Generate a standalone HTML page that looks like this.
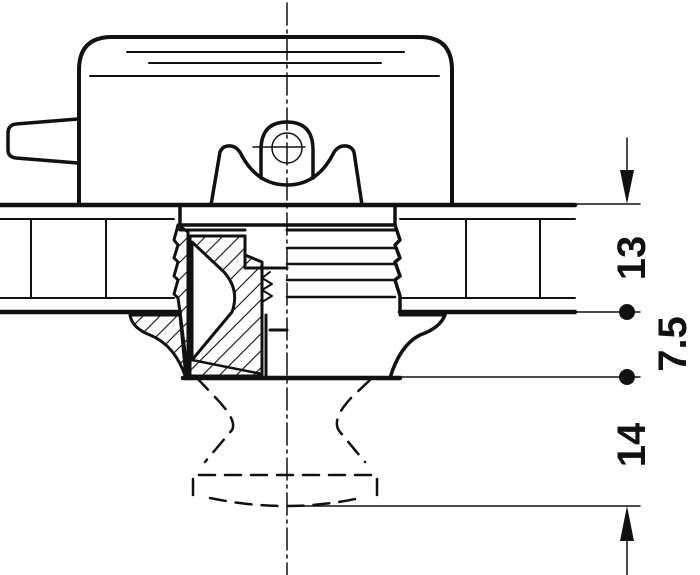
<!DOCTYPE html>
<html><head><style>html,body{margin:0;padding:0;background:#fff}svg{display:block}</style></head>
<body>
<svg width="700" height="575" viewBox="0 0 700 575" xmlns="http://www.w3.org/2000/svg">
<defs>
<pattern id="h" width="12" height="12" patternUnits="userSpaceOnUse" patternTransform="rotate(45)">
<line x1="0" y1="0" x2="0" y2="12" stroke="#111" stroke-width="2.2"/>
</pattern>
</defs>
<g fill="none" stroke="#111" stroke-linecap="round" stroke-linejoin="round">
<!-- housing -->
<path d="M79 205 V70 Q79 37 112 37 H420 Q452 37 452 70 V205" stroke-width="4"/>
<line x1="127" y1="52" x2="404" y2="52" stroke-width="2"/>
<line x1="149" y1="63" x2="381" y2="63" stroke-width="2"/>
<line x1="90" y1="76" x2="439" y2="76" stroke-width="2"/>
<path d="M78 119 L16 124 Q8 125 8 133 V150 Q8 157 16 158 L78 163" stroke-width="3.5"/>
<!-- hump -->
<path d="M211 205 L220 152 Q223 145 231 146 Q238 147 242 156 Q258 185 287 185 Q316 185 332 156 Q336 147 343 146 Q351 145 354 152 L362 205" stroke-width="3.5"/>
<path d="M261 178 V150 Q261 122 287 122 Q313 122 313 150 V178" stroke-width="3.5"/>
<circle cx="287" cy="148" r="15" stroke-width="1.5"/>
<line x1="253" y1="147" x2="305" y2="147" stroke-width="1.5"/>
<!-- plate -->
<line x1="0" y1="205" x2="575" y2="205" stroke-width="4.5"/>
<line x1="575" y1="204" x2="640" y2="204" stroke-width="1.5"/>
<line x1="0" y1="219" x2="174" y2="219" stroke-width="2"/>
<line x1="400" y1="219" x2="575" y2="219" stroke-width="2"/>
<line x1="0" y1="298" x2="174" y2="298" stroke-width="2"/>
<line x1="400" y1="298" x2="575" y2="298" stroke-width="2"/>
<line x1="31" y1="219" x2="31" y2="298" stroke-width="2"/>
<line x1="106" y1="219" x2="106" y2="298" stroke-width="2"/>
<line x1="466" y1="219" x2="466" y2="298" stroke-width="2"/>
<line x1="540" y1="219" x2="540" y2="298" stroke-width="2"/>
<line x1="0" y1="312" x2="180" y2="312" stroke-width="4.5"/>
<line x1="400" y1="312" x2="575" y2="312" stroke-width="4.5"/>
<line x1="575" y1="312" x2="640" y2="312" stroke-width="1.5"/>
<!-- flange / insert -->
<path d="M180 205 V225 H395 V205" stroke-width="3.5"/>
<line x1="180" y1="230" x2="245" y2="230" stroke-width="3"/>
<line x1="287" y1="230" x2="395" y2="230" stroke-width="3"/>
<path d="M178 225 L174 240 L178 245 L174 258 L178 262 L174 276 L178 280 L174 294 L178 298 L180 312 L188 376 L188 232 Z" fill="url(#h)" stroke-width="3"/>
<path d="M395 225 L400 240 L395 245 L400 258 L395 262 L400 276 L395 280 L400 296 V312" stroke-width="3.5"/>
<line x1="287" y1="248" x2="395" y2="248" stroke-width="2.5"/>
<line x1="287" y1="264" x2="395" y2="264" stroke-width="2.5"/>
<line x1="287" y1="280" x2="395" y2="280" stroke-width="2.5"/>
<line x1="287" y1="297" x2="395" y2="297" stroke-width="2.5"/>
<!-- hatched section -->
<path d="M190 236 L245 236 V255 L262 262 V376 L190 376 Z" fill="url(#h)" stroke-width="3"/>
<path d="M192 242 L224 272 Q240 290 232 312 L192 360 Z" fill="#fff" stroke-width="3"/>
<path d="M192 360 L262 374" stroke-width="2.5"/>
<path d="M245 236 V268 H287" stroke-width="3"/>
<path d="M270 272 L262 278 L272 284 L262 290 L272 296 L262 302" stroke-width="2"/>
<line x1="266" y1="315" x2="266" y2="377" stroke-width="3"/>
<line x1="270" y1="330" x2="287" y2="330" stroke-width="3"/>
<!-- base -->
<path d="M130 315 L180 315 L186 378 Q175 345 150 335 Q132 328 130 315 Z" fill="url(#h)" stroke-width="3"/>
<path d="M445 315 Q440 328 420 335 Q400 345 390 378" stroke-width="3.5"/>
<line x1="400" y1="315" x2="445" y2="315" stroke-width="3"/>
<line x1="183" y1="378" x2="400" y2="378" stroke-width="4.5"/>
<line x1="400" y1="377" x2="640" y2="377" stroke-width="1.5"/>
<!-- knob dashed -->
<g stroke-width="2.5" stroke-dasharray="16 10">
<path d="M197 378 L213 395 Q238 420 232 430 L205 462"/>
<path d="M370 380 L352 397 Q330 420 340 432 L365 462"/>
<path d="M193 495 V475 H377 V495"/>
<path d="M210 498 Q287 514 360 498"/>
</g>
<line x1="287" y1="506" x2="640" y2="506" stroke-width="1.5"/>
<!-- center line -->
<line x1="287" y1="3" x2="287" y2="575" stroke-width="1.5" stroke-dasharray="22 5 3 5"/>
<!-- dims -->
<line x1="627" y1="138" x2="627" y2="180" stroke-width="1.5"/>
<line x1="627" y1="541" x2="627" y2="575" stroke-width="1.5"/>
</g>
<polygon points="620,170 634,170 627,204" fill="#111"/>
<polygon points="620,541 634,541 627,506" fill="#111"/>
<circle cx="627" cy="312" r="8" fill="#111"/>
<circle cx="627" cy="377" r="8" fill="#111"/>
<g font-family="Liberation Sans, sans-serif" font-weight="bold" font-size="40" fill="#111" text-anchor="middle">
<text transform="translate(645,258) rotate(-90)">13</text>
<text transform="translate(686,344) rotate(-90)">7.5</text>
<text transform="translate(645,445) rotate(-90)">14</text>
</g>
</svg>
</body></html>
